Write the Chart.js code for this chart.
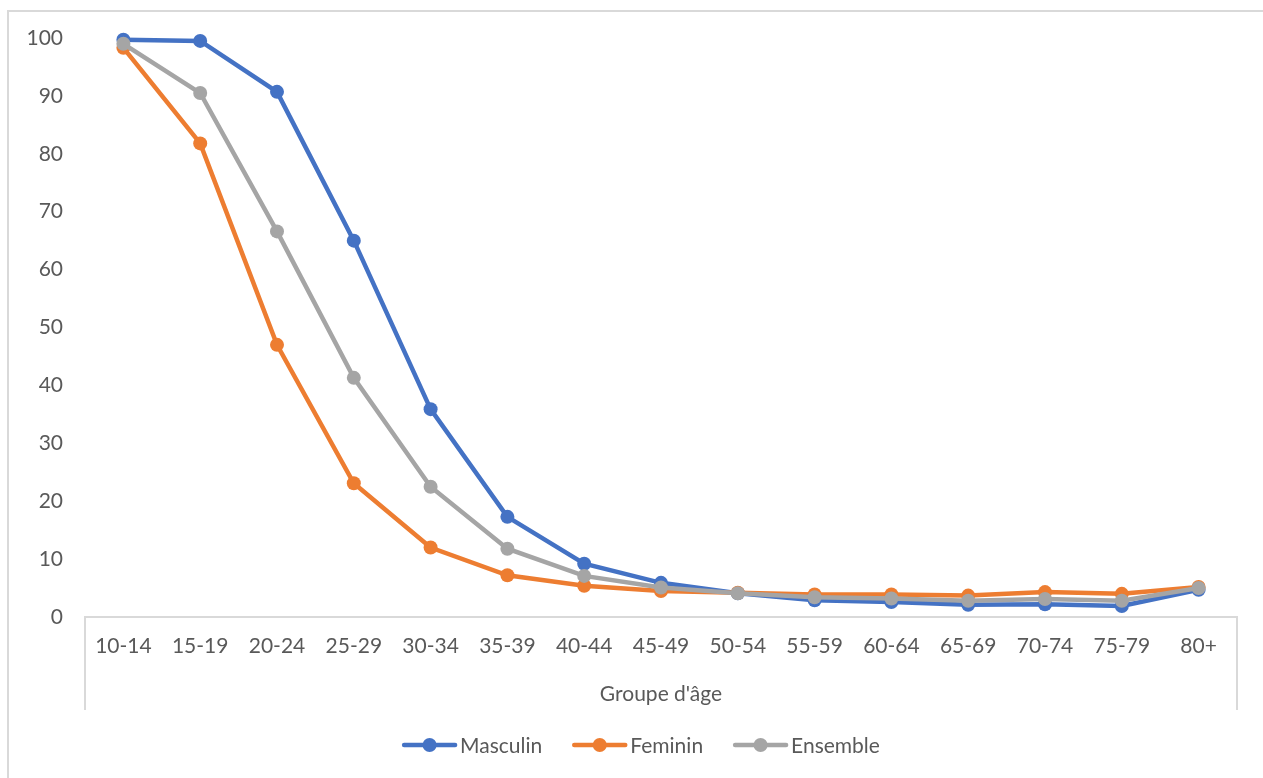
<!DOCTYPE html>
<html>
<head>
<meta charset="utf-8">
<script src="https://cdn.jsdelivr.net/npm/chart.js@4"></script>
<style>
  html, body { margin: 0; padding: 0; background: #fff; }
  #wrap { position: relative; width: 1263px; height: 778px; }
</style>
</head>
<body>
<div id="wrap"><canvas id="graphique"></canvas></div>
<script>
// groupes d'âge
const groupes = ["10-14", "15-19", "20-24", "25-29", "30-34", "35-39", "40-44", "45-49",
  "50-54", "55-59", "60-64", "65-69", "70-74", "75-79", "80+"];

// valeurs (%)
const masculin = [99.7, 99.5, 90.7, 65.0, 35.9, 17.3, 9.2, 5.9, 4.1, 2.9, 2.6, 2.1, 2.2, 1.9, 4.7];
const feminin  = [98.3, 81.8, 47.0, 23.1, 12.0, 7.2, 5.4, 4.5, 4.2, 3.9, 3.9, 3.7, 4.3, 4.0, 5.2];
const ensemble = [99.0, 90.5, 66.6, 41.3, 22.5, 11.8, 7.1, 5.1, 4.1, 3.4, 3.2, 2.8, 3.1, 2.8, 5.0];

const police = "Lato, 'Open Sans', sans-serif";
const taille = 21;
const gris = "#595959";
const bordure = "#d9d9d9";

function serie(label, data, couleur, ordre) {
  return {
    label, data,
    borderColor: couleur,
    backgroundColor: couleur,
    borderWidth: 4.5,
    pointRadius: 7,
    pointHoverRadius: 7,
    pointBorderWidth: 0,
    tension: 0,
    clip: false,
    order: ordre
  };
}

// cadre, boîte de l'axe des catégories et légende
const decor = {
  id: "decor",
  beforeDraw(chart) {
    const ctx = chart.ctx;
    const a = chart.chartArea;
    ctx.save();
    ctx.strokeStyle = bordure;
    ctx.lineWidth = 2;
    ctx.beginPath();
    ctx.moveTo(8, 778);
    ctx.lineTo(8, 11);
    ctx.lineTo(1263, 11);
    ctx.stroke();
    ctx.beginPath();
    ctx.moveTo(a.left, 710);
    ctx.lineTo(a.left, a.bottom);
    ctx.lineTo(a.right, a.bottom);
    ctx.lineTo(a.right, 710);
    ctx.stroke();
    ctx.restore();
  },
  afterDraw(chart) {
    const ctx = chart.ctx;
    ctx.save();
    ctx.font = taille + "px " + police;
    const y = 745;
    const items = chart.data.datasets;
    const ligne = 55, ecart = 3, espace = 30;
    let total = 0;
    items.forEach((d, i) => {
      total += ligne + ecart + ctx.measureText(d.label).width;
      if (i < items.length - 1) total += espace;
    });
    let x = 641 - total / 2;
    items.forEach(d => {
      ctx.strokeStyle = d.borderColor;
      ctx.lineWidth = 4.5;
      ctx.lineCap = "round";
      ctx.beginPath();
      ctx.moveTo(x + 2, y);
      ctx.lineTo(x + ligne - 2, y);
      ctx.stroke();
      ctx.fillStyle = d.borderColor;
      ctx.beginPath();
      ctx.arc(x + ligne / 2, y, 7, 0, Math.PI * 2);
      ctx.fill();
      x += ligne + ecart;
      ctx.fillStyle = gris;
      ctx.textBaseline = "middle";
      ctx.textAlign = "left";
      ctx.fillText(d.label, x, y + 1);
      x += ctx.measureText(d.label).width + espace;
    });
    ctx.restore();
  }
};

new Chart(document.getElementById("graphique"), {
  type: "line",
  data: {
    labels: groupes,
    datasets: [
      serie("Masculin", masculin, "#4472C4", 3),
      serie("Feminin", feminin, "#ED7D31", 2),
      serie("Ensemble", ensemble, "#A5A5A5", 1)
    ]
  },
  options: {
    responsive: true,
    maintainAspectRatio: false,
    animation: false,
    layout: { padding: { top: 38, right: 26, bottom: 61, left: 0 } },
    plugins: {
      legend: { display: false },
      tooltip: { enabled: false },
      title: { display: false }
    },
    scales: {
      y: {
        min: 0,
        max: 100,
        ticks: { stepSize: 10, color: gris, font: { family: police, size: taille }, padding: 22 },
        grid: { display: false, drawTicks: false },
        border: { display: false },
        afterFit(s) { s.width = 85; }
      },
      x: {
        offset: true,
        ticks: { color: gris, font: { family: police, size: taille }, padding: 17, maxRotation: 0, autoSkip: false },
        grid: { display: false, drawTicks: false },
        border: { display: false },
        title: {
          display: true,
          text: "Groupe d'âge",
          color: gris,
          font: { family: police, size: taille },
          padding: { top: 4, bottom: 10 }
        },
        afterFit(s) { s.height = 100; }
      }
    }
  },
  plugins: [decor]
});
</script>
</body>
</html>
